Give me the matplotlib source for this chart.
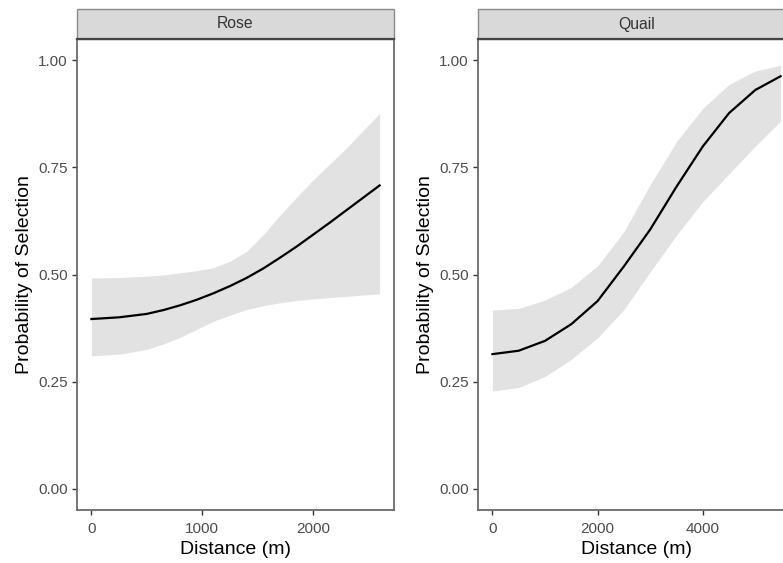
import matplotlib
matplotlib.use("Agg")
import matplotlib.pyplot as plt
from matplotlib.patches import Rectangle

plt.rcParams['font.family'] = ['Liberation Sans', 'DejaVu Sans']

# Rose: predicted probability with confidence band
rose_dist = [0, 250, 500, 650, 800, 950, 1100, 1250, 1400, 1550, 1700,
             1850, 2000, 2150, 2300, 2450, 2600]
rose_fit = [0.396, 0.400, 0.408, 0.417, 0.428, 0.441, 0.456, 0.473, 0.492,
            0.514, 0.539, 0.565, 0.593, 0.621, 0.650, 0.679, 0.708]
rose_lo = [0.310, 0.314, 0.325, 0.338, 0.353, 0.372, 0.391, 0.405, 0.418,
           0.427, 0.434, 0.439, 0.443, 0.446, 0.449, 0.452, 0.455]
rose_hi = [0.492, 0.493, 0.496, 0.499, 0.504, 0.509, 0.516, 0.531, 0.554,
           0.593, 0.638, 0.680, 0.721, 0.758, 0.795, 0.836, 0.876]

# Quail: predicted probability with confidence band
quail_dist = [0, 500, 1000, 1500, 2000, 2500, 3000, 3500, 4000, 4500, 5000, 5480]
quail_fit = [0.314, 0.322, 0.345, 0.384, 0.438, 0.519, 0.605, 0.705, 0.799, 0.877, 0.931, 0.963]
quail_lo = [0.228, 0.236, 0.262, 0.302, 0.352, 0.418, 0.506, 0.592, 0.670, 0.735, 0.800, 0.858]
quail_hi = [0.417, 0.421, 0.440, 0.470, 0.520, 0.600, 0.710, 0.810, 0.888, 0.944, 0.975, 0.989]

y_ticks = [0.00, 0.25, 0.50, 0.75, 1.00]
y_tick_labels = ["0.00", "0.25", "0.50", "0.75", "1.00"]
rose_xticks = [0, 1000, 2000]
quail_xticks = [0, 2000, 4000]

W, H = 783, 563
fig = plt.figure(figsize=(W / 100, H / 100), dpi=100)
fig.patch.set_facecolor("white")

panel_top, panel_bot = 39, 510
strip_h = 30
panel_w = 317

panels = [
    ("Rose", 77, rose_dist, rose_fit, rose_lo, rose_hi, rose_xticks),
    ("Quail", 478, quail_dist, quail_fit, quail_lo, quail_hi, quail_xticks),
]

border_col = "#6a6a6a"

for title, left_px, xd, fit, lo, hi, xt in panels:
    ax = fig.add_axes([left_px / W, (H - panel_bot) / H,
                       panel_w / W, (panel_bot - panel_top) / H])
    ax.fill_between(xd, lo, hi, color="#e2e2e2", linewidth=0, zorder=1)
    ax.plot(xd, fit, color="black", linewidth=1.6, zorder=2,
            solid_joinstyle="round")

    rng = max(xd) - min(xd)
    ax.set_xlim(min(xd) - 0.05 * rng, max(xd) + 0.05 * rng)
    ax.set_ylim(-0.05, 1.05)
    ax.set_xticks(xt)
    ax.set_xticklabels([str(v) for v in xt])
    ax.set_yticks(y_ticks)
    ax.set_yticklabels(y_tick_labels)

    for s in ax.spines.values():
        s.set_color(border_col)
        s.set_linewidth(1.3)
    ax.tick_params(axis="both", length=3.5, width=1.0, color="#333333",
                   labelsize=11, labelcolor="#4d4d4d")
    ax.tick_params(axis="x", pad=5)
    ax.tick_params(axis="y", pad=3)

    ax.set_xlabel("Distance (m)", fontsize=14, color="black", labelpad=4)
    ax.set_ylabel("Probability of Selection", fontsize=14, color="black")
    ax.yaxis.set_label_coords(-0.139, 0.5)

    # facet strip above the panel
    sax = fig.add_axes([left_px / W, (H - panel_top) / H,
                        panel_w / W, strip_h / H])
    sax.set_xlim(0, 1)
    sax.set_ylim(0, 1)
    sax.axis("off")
    sax.add_patch(Rectangle((0, 0), 1, 1, facecolor="#d9d9d9",
                            edgecolor="#8a8a8a", linewidth=1.0,
                            transform=sax.transAxes, clip_on=False))
    sax.plot([0, 1], [0, 0], color="#444444", linewidth=1.6,
             transform=sax.transAxes, clip_on=False)
    sax.text(0.5, 0.5, title, ha="center", va="center", fontsize=11.3,
             color="#333333", transform=sax.transAxes)

fig.savefig("out.png", dpi=100, facecolor="white")
